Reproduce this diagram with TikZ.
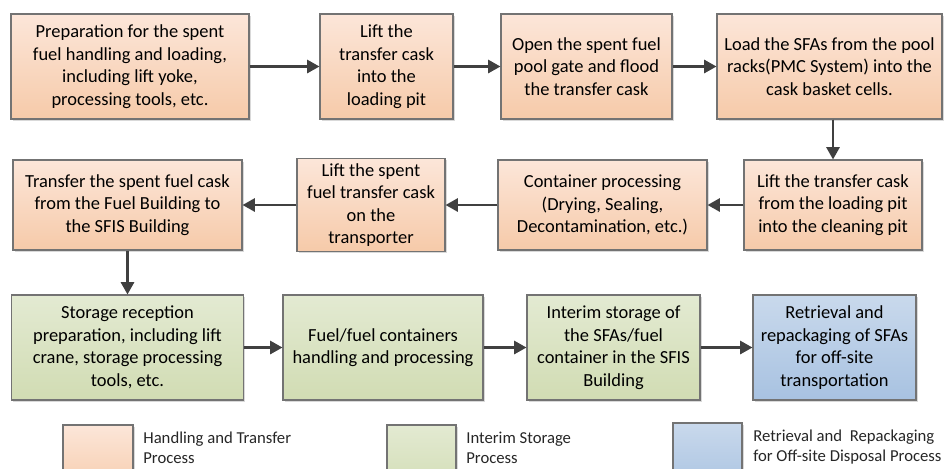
\documentclass[tikz,border=0pt]{standalone}
\usepackage{fontspec}
\setmainfont{Carlito}
\usetikzlibrary{arrows.meta,shadows}

\definecolor{handtop}{HTML}{FCE6D9}
\definecolor{handbot}{HTML}{F6CAA9}
\definecolor{stortop}{HTML}{E3EAD2}
\definecolor{storbot}{HTML}{D1DCB3}
\definecolor{rettop}{HTML}{C9D9EC}
\definecolor{retbot}{HTML}{A8C2E1}
\definecolor{linegray}{HTML}{404040}

\begin{document}
\begin{tikzpicture}[x=0.02cm, y=-0.02cm,
    box/.style={draw=black!55, line width=0.65pt, align=center, inner sep=0pt,
        font=\fontsize{10.5}{12.8}\selectfont, text=black,
        drop shadow={shadow xshift=1.1pt, shadow yshift=-1.1pt, fill=black!15, opacity=1}},
    handling/.style={box, top color=handtop, bottom color=handbot},
    storage/.style={box, top color=stortop, bottom color=storbot},
    retrieval/.style={box, top color=rettop, bottom color=retbot},
    legendtext/.style={anchor=west, align=left, inner sep=0pt,
        font=\fontsize{9.5}{11.3}\selectfont, text=black!85},
    flow/.style={-{Triangle[length=7pt, width=7.5pt]}, line width=1.3pt, draw=linegray, fill=linegray}]

    \useasboundingbox (0,0) rectangle (946,468);
    \clip (0,0) rectangle (946,468);

    \node [handling, minimum width=4.76cm, minimum height=2.1cm] (prep) at (130,66.5)
        {Preparation for the spent\\fuel handling and loading,\\including lift yoke,\\processing tools, etc.};
    \node [handling, minimum width=2.66cm, minimum height=2.1cm] (liftpit) at (386.5,66.5)
        {Lift the\\transfer cask\\into the\\loading pit};
    \node [handling, minimum width=3.42cm, minimum height=2.1cm] (flood) at (586.5,66.5)
        {Open the spent fuel\\pool gate and flood\\the transfer cask};
    \node [handling, minimum width=4.5cm, minimum height=2.1cm] (load) at (829.5,66.5)
        {Load the SFAs from the pool\\racks(PMC System) into the\\cask basket cells.};

    \node [handling, minimum width=3.56cm, minimum height=1.8cm] (clean) at (833,205)
        {Lift the transfer cask\\from the loading pit\\into the cleaning pit};
    \node [handling, minimum width=4.18cm, minimum height=1.8cm] (dry) at (602.5,205)
        {Container processing\\(Drying, Sealing,\\Decontamination, etc.)};
    \node [handling, minimum width=2.96cm, minimum height=1.86cm] (transp) at (371,205)
        {Lift the spent\\fuel transfer cask\\on the\\transporter};
    \node [handling, minimum width=4.58cm, minimum height=1.8cm] (transfer) at (127.5,205)
        {Transfer the spent fuel cask\\from the Fuel Building to\\the SFIS Building};

    \node [storage, minimum width=4.64cm, minimum height=2.1cm] (recep) at (127.5,347.5)
        {Storage reception\\preparation, including lift\\crane, storage processing\\tools, etc.};
    \node [storage, minimum width=4cm, minimum height=2.1cm] (handle) at (383,347.5)
        {Fuel/fuel containers\\handling and processing};
    \node [storage, minimum width=3.46cm, minimum height=2.1cm] (interim) at (613.5,347.5)
        {Interim storage of\\the SFAs/fuel\\container in the SFIS\\Building};
    \node [retrieval, minimum width=3.26cm, minimum height=2.1cm] (retrieve) at (834.5,347.5)
        {Retrieval and\\repackaging of SFAs\\for off-site\\transportation};

    \draw[flow] (prep) -- (liftpit);
    \draw[flow] (liftpit) -- (flood);
    \draw[flow] (flood) -- (load);
    \draw[flow] (load.south -| clean.north) -- (clean.north);
    \draw[flow] (clean) -- (dry);
    \draw[flow] (dry) -- (transp);
    \draw[flow] (transp) -- (transfer);
    \draw[flow] (transfer) -- (recep);
    \draw[flow] (recep) -- (handle);
    \draw[flow] (handle) -- (interim);
    \draw[flow] (interim) -- (retrieve);

    \node [handling, minimum width=1.4cm, minimum height=1.4cm] (keyhand) at (98,460) {};
    \node [legendtext] (keyhandtext) at (143,448) {Handling and Transfer\\Process};
    \node [storage, minimum width=1.38cm, minimum height=1.4cm] (keystor) at (421.5,460) {};
    \node [legendtext] (keystortext) at (466,448) {Interim Storage\\Process};
    \node [retrieval, minimum width=1.38cm, minimum height=1.4cm] (keyret) at (707.5,458) {};
    \node [legendtext] (keyrettext) at (753,447) {Retrieval and\ \ Repackaging\\for Off-site Disposal Process};

\end{tikzpicture}
\end{document}
